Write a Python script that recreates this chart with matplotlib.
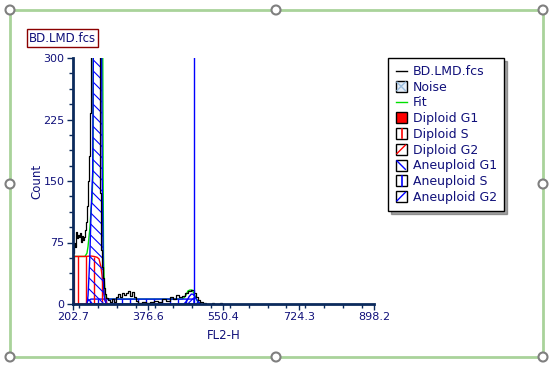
import matplotlib
matplotlib.use("Agg")
import numpy as np
import matplotlib.pyplot as plt
from matplotlib.patches import Rectangle, Circle, Polygon
from matplotlib.lines import Line2D
from matplotlib.legend_handler import HandlerBase
from matplotlib.ticker import MultipleLocator

plt.rcParams['font.family'] = ['DejaVu Sans']
plt.rcParams['hatch.linewidth'] = 0.8

NAVY = '#10107a'
AXIS = '#0b2a5c'

# measured histogram (step start, count)
data_x = [202.7, 205.0, 207.3, 209.6, 211.9, 214.3, 216.6, 218.9, 221.2, 223.5,
          225.8, 228.1, 230.4, 232.7, 235.0, 237.4, 239.7, 242.0, 244.3, 246.6,
          262.8, 265.1, 267.4, 269.7, 272.0, 274.3, 276.6, 279.0, 283.6, 288.2,
          292.8, 297.4, 302.1, 306.7, 311.3, 315.9, 320.5, 325.2, 329.8, 334.4,
          339.0, 343.6, 348.3, 352.9, 362.1, 371.4, 380.6, 389.9, 399.1, 408.3,
          417.6, 426.8, 433.7, 440.7, 447.6, 454.6, 461.5, 468.4, 475.4, 482.3,
          486.9, 491.5, 496.2, 503.1, 510.0, 523.9, 528.5, 542.4, 547.0]
data_y = [62, 74, 70, 88, 80, 84, 82, 87, 76, 83,
          78, 82, 90, 100, 120, 150, 180, 233, 560, 1500,
          900, 135, 66, 45, 32, 20, 12, 7, 5, 3,
          6, 3, 8, 12, 9, 14, 11, 13, 16, 10,
          15, 8, 4, 1, 3, 1, 2, 4, 2, 6,
          4, 9, 6, 11, 8, 10, 13, 16, 17, 14,
          9, 5, 2, 1, 0, 1, 0, 1, 0]

# fitted total model
fit_x = [206.0, 230.4, 235.0, 237.4, 239.7, 242.0, 244.3, 246.6, 248.9, 251.2,
         258.2, 265.1, 269.7, 271.5, 272.4, 273.2, 274.3, 276.6, 279.0, 283.6,
         288.2, 455.0, 460.0, 463.8, 468.4, 473.0, 477.7, 482.3, 486.9, 491.5,
         496.0]
fit_y = [58, 58, 62, 70, 82, 94, 115, 127, 163, 700,
         2000, 1000, 500, 300, 150, 60, 35, 15, 8, 6,
         6, 6, 8, 11, 16, 17, 17, 13, 7, 2,
         0]

# diploid S component
dipS_x = [206.0, 206.0, 230.4, 244.3, 251.2, 258.2, 262.8, 265.1, 267.4, 269.7,
          272.0, 274.3, 276.6, 279.0, 283.6]
dipS_y = [0, 58, 58, 58.5, 58, 57, 55, 50, 45, 35,
          22, 13, 6, 2, 0]

# aneuploid G1 component
aneG1_x = [235.0, 237.4, 239.7, 241.6, 244.3, 246.6, 248.2, 249.6, 252.0, 256.0,
           260.0, 264.0, 267.4, 268.9, 270.3, 271.5, 272.7, 274.3, 276.6, 280.0]
aneG1_y = [0, 10, 35, 58, 110, 140, 160, 300, 900, 1500,
           1500, 800, 400, 300, 150, 94, 33, 12, 4, 0]

# aneuploid S component
aneS_x = [232.7, 237.4, 244.3, 482.3, 482.3]
aneS_y = [0, 4, 6, 6, 0]

# aneuploid G2 component
aneG2_x = [459.0, 466.0, 471.0, 476.0, 480.0, 484.0, 489.0, 494.0, 498.0]
aneG2_y = [0, 4, 9, 12, 12, 9, 5, 2, 0]

marker_x = 482.3

x_ticks = [202.7, 376.6, 550.4, 724.3, 898.2]
y_ticks = [0, 75, 150, 225, 300]

fig = plt.figure(figsize=(5.54, 3.71), dpi=100)

# selection frame around the chart
bg = fig.add_axes([0, 0, 1, 1], zorder=0)
bg.set_xlim(0, 554)
bg.set_ylim(371, 0)
bg.axis('off')
bg.add_patch(Rectangle((10, 10), 533, 347, fill=False, edgecolor='#a9d39a', lw=2))
for cx, cy in [(10, 10), (276, 10), (543, 10), (10, 184), (543, 184),
               (10, 357), (276, 357), (543, 357)]:
    bg.add_patch(Circle((cx, cy), 4.5, facecolor='white', edgecolor='#7f7f7f', lw=1.5, zorder=3))

ax = fig.add_axes([73 / 554, 1 - 304 / 371, 301 / 554, 246 / 371], zorder=1)
ax.patch.set_alpha(0)


def component(xs, ys, color, hatch=None, z=2.5):
    pts = list(zip(xs, ys))
    ax.add_patch(Polygon(pts, closed=True, facecolor='none', edgecolor=color,
                         hatch=hatch, lw=1, zorder=z))


def vert_hatch(xs, ys, color, step=18.5, z=2.4):
    # vertical hatch lines drawn under the component outline
    hx = np.arange(xs[0] + step / 2, xs[-1], step)
    ax.vlines(hx, 0, np.interp(hx, xs, ys), color=color, lw=1, zorder=z)


ax.plot(fit_x, fit_y, color='#00e000', lw=1, zorder=2)
vert_hatch(aneS_x, aneS_y, 'blue')
component(aneS_x, aneS_y, 'blue')
component(aneG2_x, aneG2_y, 'blue', '////')
vert_hatch(dipS_x, dipS_y, 'red', z=2.6)
component(dipS_x, dipS_y, 'red', z=2.7)
component(aneG1_x, aneG1_y, 'blue', '\\\\\\', z=2.8)
ax.plot(data_x, data_y, color='black', lw=0.9, drawstyle='steps-post', zorder=3)
ax.plot([marker_x, marker_x], [0, 1000], color='blue', lw=1, zorder=3)

ax.set_xlim(x_ticks[0], x_ticks[-1])
ax.set_ylim(0, 300)
ax.set_xticks(x_ticks)
ax.set_yticks(y_ticks)
ax.xaxis.set_minor_locator(MultipleLocator((x_ticks[1] - x_ticks[0]) / 4))
ax.yaxis.set_minor_locator(MultipleLocator(18.75))
for s in ['top', 'right']:
    ax.spines[s].set_visible(False)
for s in ['left', 'bottom']:
    ax.spines[s].set_color(AXIS)
    ax.spines[s].set_linewidth(2)
    ax.spines[s].set_zorder(4)
ax.tick_params(which='major', length=4, width=1, color=AXIS, labelcolor=NAVY, labelsize=8, pad=2)
ax.tick_params(which='minor', length=3, width=1, color=AXIS)
ax.set_xlabel('FL2-H', color=NAVY, fontsize=8.5, labelpad=5)
ax.set_ylabel('Count', color=NAVY, fontsize=8.5, labelpad=0)

fig.text(29 / 554, 1 - 38 / 371, 'BD.LMD.fcs', color=NAVY, fontsize=8.5, va='center', ha='left',
         bbox=dict(boxstyle='square,pad=0.2', facecolor='white', edgecolor='#8b0000', lw=1))


# legend swatches
class Swatch:
    def __init__(self, kind, color, face='white'):
        self.kind, self.color, self.face = kind, color, face


class SwatchHandler(HandlerBase):
    def create_artists(self, legend, h, xd, yd, width, height, fontsize, trans):
        s = min(width, height)
        x0, y0 = -xd + (width - s) / 2, -yd + (height - s) / 2
        arts = []
        if h.kind == 'line':
            arts.append(Line2D([x0, x0 + s], [y0 + s / 2] * 2, color=h.color, lw=1))
            for a in arts:
                a.set_transform(trans)
            return arts
        arts.append(Rectangle((x0, y0), s, s, facecolor=h.face, edgecolor='black', lw=1))
        if h.kind in ('/', 'x'):
            arts.append(Line2D([x0 + 1, x0 + s - 1], [y0 + 1, y0 + s - 1], color=h.color, lw=1))
        if h.kind in ('\\', 'x'):
            arts.append(Line2D([x0 + 1, x0 + s - 1], [y0 + s - 1, y0 + 1], color=h.color, lw=1))
        if h.kind == '|':
            arts.append(Line2D([x0 + s * 0.6] * 2, [y0 + 0.5, y0 + s - 0.5], color=h.color, lw=1.2))
        for a in arts:
            a.set_transform(trans)
        return arts


handles = [
    Swatch('line', 'black'),
    Swatch('x', '#9dbfe0', '#e6eef8'),
    Swatch('line', '#00e000'),
    Swatch('fill', 'red', 'red'),
    Swatch('|', 'red'),
    Swatch('/', 'red'),
    Swatch('\\', 'blue'),
    Swatch('|', 'blue'),
    Swatch('/', 'blue'),
]
labels = ['BD.LMD.fcs', 'Noise', 'Fit', 'Diploid G1', 'Diploid S', 'Diploid G2',
          'Aneuploid G1', 'Aneuploid S', 'Aneuploid G2']
leg = fig.legend(handles, labels, handler_map={Swatch: SwatchHandler()},
                 loc='upper left', bbox_to_anchor=(388 / 554, 1 - 58 / 371),
                 fontsize=9, frameon=True, fancybox=False, shadow=True, handlelength=1.0,
                 handleheight=1.0, handletextpad=0.45, labelspacing=0.22, borderpad=0.55,
                 borderaxespad=0, labelcolor=NAVY)
leg.get_frame().set_edgecolor('black')
leg.get_frame().set_linewidth(1)

fig.savefig('out.png', dpi=100)
